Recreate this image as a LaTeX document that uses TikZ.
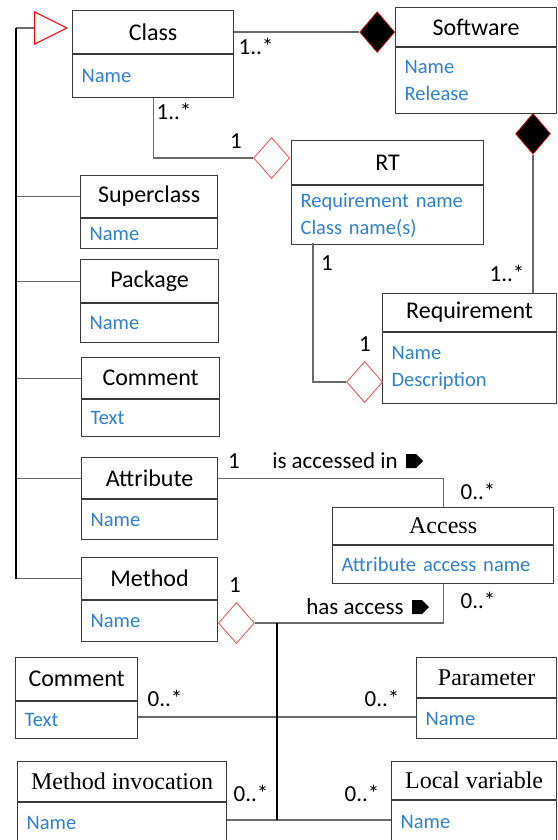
\documentclass[tikz,border=0pt]{standalone}
\usepackage{fontspec}
\setmainfont{Carlito}
\newfontfamily\timesfont{Liberation Serif}
\usepackage{tikz}
\usetikzlibrary{positioning, shapes.geometric, shapes.symbols}
\definecolor{boxline}{HTML}{3A3A3A}
\definecolor{linkgray}{HTML}{6A6A6A}
\definecolor{attrblue}{HTML}{2F80CE}
\definecolor{aggred}{HTML}{F04848}

\begin{document}
\begin{tikzpicture}[x=1pt, y=-1pt,
    title/.style={draw=boxline, line width=1.2pt, anchor=north west, inner sep=0pt,
        font=\fontsize{24}{28}\selectfont},
    serif/.style={font=\timesfont\fontsize{24}{28}\selectfont},
    attrs/.style={draw=boxline, line width=1.2pt, anchor=north west, inner xsep=9pt,
        inner ysep=0pt, align=left, text=attrblue, font=\fontsize{20.5}{27}\selectfont},
    link/.style={draw=linkgray, line width=1.2pt},
    trunk/.style={draw=black, line width=2pt},
    mult/.style={inner sep=2pt, font=\fontsize{23}{27}\selectfont},
    hollowdia/.style={diamond, draw=aggred, fill=white, line width=0.8pt,
        minimum width=36pt, minimum height=41pt, inner sep=0pt},
    filleddia/.style={diamond, draw=red, fill=black, line width=0.6pt,
        minimum width=35pt, minimum height=41pt, inner sep=0pt},
    readdir/.style={signal, signal to=east, fill=black, minimum width=17pt,
        minimum height=14pt, inner sep=0pt},
]
    \useasboundingbox (0,0) rectangle (557,840);

    % Classes
    \node[title, minimum width=161pt, minimum height=43pt] (classt) at (72,10) {Class};
    \node[attrs, text width=143pt, minimum height=43pt] (classb) at (classt.south west) {Name};

    \node[title, minimum width=161pt, minimum height=39pt] (softt) at (395,7) {Software};
    \node[attrs, text width=143pt, minimum height=66pt] (softb) at (softt.south west) {Name\\Release};

    \node[title, minimum width=192pt, minimum height=44pt] (rtt) at (291,140) {RT};
    \node[attrs, text width=174pt, minimum height=59pt] (rtb) at (rtt.south west) {Requirement name\\Class name(s)};

    \node[title, minimum width=174pt, minimum height=38pt] (reqt) at (382,293) {Requirement};
    \node[attrs, text width=156pt, minimum height=71pt] (reqb) at (reqt.south west) {Name\\Description};

    \node[title, minimum width=137pt, minimum height=42pt] (supert) at (80,175) {Superclass};
    \node[attrs, text width=119pt, minimum height=30pt] (superb) at (supert.south west) {Name};

    \node[title, minimum width=138pt, minimum height=43pt] (packt) at (80,259) {Package};
    \node[attrs, text width=120pt, minimum height=39pt] (packb) at (packt.south west) {Name};

    \node[title, minimum width=138pt, minimum height=41pt] (cmtt) at (81,357) {Comment};
    \node[attrs, text width=120pt, minimum height=37pt] (cmtb) at (cmtt.south west) {Text};

    \node[title, minimum width=136pt, minimum height=41pt] (attrt) at (81,457) {Attribute};
    \node[attrs, text width=118pt, minimum height=40pt] (attrb) at (attrt.south west) {Name};

    \node[title, minimum width=136pt, minimum height=42pt] (methodt) at (81,557) {Method};
    \node[attrs, text width=118pt, minimum height=41pt] (methodb) at (methodt.south west) {Name};

    \node[title, serif, minimum width=221pt, minimum height=37pt] (acct) at (332,507) {Access};
    \node[attrs, text width=203pt, minimum height=38pt] (accb) at (acct.south west) {Attribute access name};

    \node[title, minimum width=122pt, minimum height=43pt] (cmt2t) at (15,657) {Comment};
    \node[attrs, text width=104pt, minimum height=37pt] (cmt2b) at (cmt2t.south west) {Text};

    \node[title, serif, minimum width=140pt, minimum height=40pt] (part) at (416,657) {Parameter};
    \node[attrs, text width=122pt, minimum height=40pt] (parb) at (part.south west) {Name};

    \node[title, serif, minimum width=209pt, minimum height=40pt] (mit) at (17,761) {Method invocation};
    \node[attrs, text width=191pt, minimum height=40pt] (mib) at (mit.south west) {Name};

    \node[title, serif, minimum width=165pt, minimum height=38pt] (lvt) at (391,761) {Local variable};
    \node[attrs, text width=147pt, minimum height=42pt] (lvb) at (lvt.south west) {Name};

    % Inheritance
    \node[isosceles triangle, isosceles triangle stretches, draw=red, fill=white, line width=1pt,
        minimum width=32pt, minimum height=32pt, inner sep=0pt, anchor=apex] (inh) at (68,28) {};
    \coordinate (trunktop) at (16,28);
    \draw[link] (trunktop) -- (inh.west);
    \foreach \n in {supert, packt, cmtt, attrt, methodt}
        \draw[link] (trunktop |- \n.west) -- (\n.west);
    \draw[trunk] (trunktop) -- (trunktop |- methodt.west);

    % Class -- Software
    \node[filleddia, anchor=east] (swdia) at (classt.east -| softt.west) {};
    \draw[link] (classt.east) -- (swdia.west);
    \node[mult] at (256,46) {1..*};

    % Software -- Requirement
    \node[filleddia, anchor=north] (reqdia) at (533,113) {};
    \draw[link] (reqdia.south) -- (reqdia.south |- reqt.north);
    \node[mult] at (507,273) {1..*};

    % Class -- RT
    \node[hollowdia, anchor=east] (rtdia) at (290,158) {};
    \draw[link] (classb.south) |- (rtdia.west);
    \node[mult] at (174,111) {1..*};
    \node[mult] at (236,141) {1};

    % RT -- Requirement
    \coordinate (rtfoot) at (313,243);
    \node[hollowdia, anchor=east] (reqagg) at (383,382) {};
    \draw[link] (rtfoot) |- (reqagg.west);
    \node[mult] at (327,263) {1};
    \node[mult] at (365,344) {1};

    % Attribute -- Access
    \draw[link] (attrt.east) -| (acct.north);
    \node[mult] at (234,461) {1};
    \node[mult] (acclbl) at (335,461) {is accessed in};
    \node[readdir, right=6pt of acclbl] {};
    \node[mult] at (478,491) {0..*};

    % Method -- Access
    \node[hollowdia, anchor=west] (mdia) at (218,623) {};
    \draw[link] (mdia.east) -| (accb.south);
    \node[mult] at (235,585) {1};
    \node[mult] (haslbl) at (355,607) {has access};
    \node[readdir, right=6pt of haslbl] {};
    \node[mult] at (478,600) {0..*};

    % Method parts
    \coordinate (jm) at (277,717);
    \coordinate (jb) at (277,820);
    \draw[link] (jm -| cmt2b.east) -- (jm -| parb.west);
    \draw[link] (jb -| mib.east) -- (jb -| lvb.west);
    \draw[trunk] (mdia.east -| jm) -- (jb);
    \node[mult] at (165,698) {0..*};
    \node[mult] at (382,698) {0..*};
    \node[mult] at (251,793) {0..*};
    \node[mult] at (362,793) {0..*};
\end{tikzpicture}
\end{document}
